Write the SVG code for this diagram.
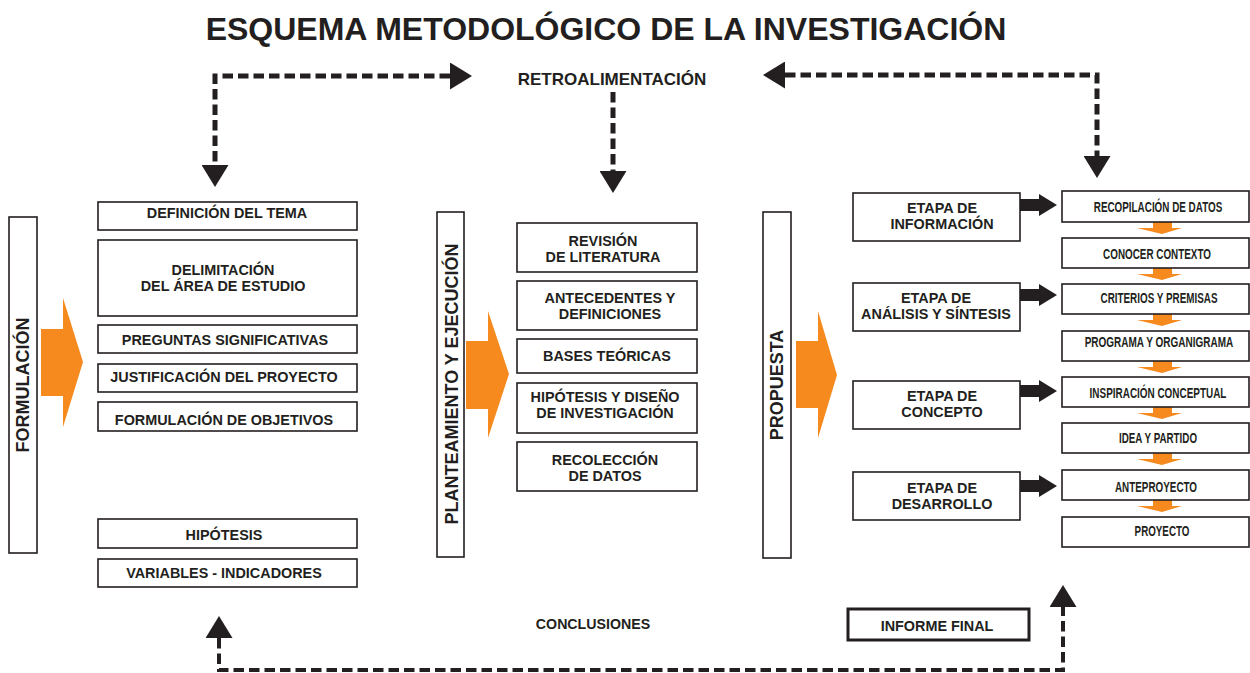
<svg xmlns="http://www.w3.org/2000/svg" width="1250" height="673" viewBox="0 0 1250 673">
<style>
.box{fill:#fff;stroke:#231F20;stroke-width:1.6}
.bold{stroke-width:3}
.t{font-family:"Liberation Sans",Arial,sans-serif;font-weight:bold;fill:#231F20;text-anchor:middle;font-size:14.4px}
.n{font-size:14px}
.v{font-size:18px}
.orange{fill:#F68A1F}
.blk{fill:#231F20}
.dash{fill:none;stroke:#231F20;stroke-width:5;stroke-dasharray:10.5 5}
.dash2{stroke-width:4}
</style>
<defs>
<marker id="head" viewBox="0 0 22 27" refX="0" refY="13.5" markerWidth="22" markerHeight="27" markerUnits="userSpaceOnUse" orient="auto-start-reverse">
<path d="M0,0 L22,13.5 L0,27 z" fill="#231F20"/>
</marker>
</defs>
<rect width="1250" height="673" fill="#fff"/>
<text class="t" x="606" y="40" style="font-size:32px">ESQUEMA METODOLÓGICO DE LA INVESTIGACIÓN</text>
<text class="t" x="612" y="85" style="font-size:17px">RETROALIMENTACIÓN</text>
<text class="t" x="593" y="629" style="font-size:14.2px">CONCLUSIONES</text>

<g id="connectors">
<path class="dash" d="M450,76 H215 V165" marker-start="url(#head)" marker-end="url(#head)"/>
<path class="dash" d="M785,75 H1097 V156" marker-start="url(#head)" marker-end="url(#head)"/>
<path class="dash" d="M613,92 V171" marker-end="url(#head)"/>
<path class="dash dash2" d="M219,638 V670 H1063 V607" marker-start="url(#head)" marker-end="url(#head)"/>
<polygon class="orange" points="41,329 63,329 63,298 83,362 63,427 63,396 41,396"/>
<polygon class="orange" points="466,341 488,341 488,311 509,374 488,438 488,409 466,409"/>
<polygon class="orange" points="796,341 818,341 818,311 837,375 818,438 818,408 796,408"/>
<polygon class="blk" points="1020,199 1039,199 1039,194 1057,205 1039,216 1039,211 1020,211"/>
<polygon class="blk" points="1020,289 1039,289 1039,284 1057,295 1039,306 1039,301 1020,301"/>
<polygon class="blk" points="1020,385 1039,385 1039,380 1057,391 1039,402 1039,397 1020,397"/>
<polygon class="blk" points="1020,480 1039,480 1039,475 1057,486 1039,497 1039,492 1020,492"/>
<g class="orange">
<polygon points="1153,222 1172,222 1172,228 1182,228 1162,234 1137,228 1153,228"/>
<polygon points="1153,268 1172,268 1172,274 1182,274 1162,280 1137,274 1153,274"/>
<polygon points="1153,314 1172,314 1172,320 1182,320 1162,326 1137,320 1153,320"/>
<polygon points="1153,361 1172,361 1172,367 1182,367 1162,373 1137,367 1153,367"/>
<polygon points="1153,407 1172,407 1172,413 1182,413 1162,419 1137,413 1153,413"/>
<polygon points="1153,453 1172,453 1172,459 1182,459 1162,465 1137,459 1153,459"/>
<polygon points="1153,500 1172,500 1172,506 1182,506 1162,512 1137,506 1153,506"/>
</g>
</g>

<g id="formulacion"><rect class="box" x="9" y="217" width="28" height="336"/><text class="t v" transform="translate(29,385) rotate(-90)">FORMULACIÓN</text></g>
<g id="planteamiento"><rect class="box" x="437" y="212" width="27" height="345"/><text class="t v" transform="translate(458,384) rotate(-90)">PLANTEAMIENTO Y EJECUCIÓN</text></g>
<g id="propuesta"><rect class="box" x="763" y="212" width="28" height="346"/><text class="t v" transform="translate(783,385) rotate(-90)">PROPUESTA</text></g>

<g id="definicion"><rect class="box" x="98" y="202" width="259" height="28"/><text class="t" x="227" y="218">DEFINICIÓN DEL TEMA</text></g>
<g id="delimitacion"><rect class="box" x="98" y="240" width="259" height="76"/><text class="t" x="223" y="275">DELIMITACIÓN</text><text class="t" x="223" y="291">DEL ÁREA DE ESTUDIO</text></g>
<g id="preguntas"><rect class="box" x="98" y="325" width="259" height="28"/><text class="t" x="225" y="345">PREGUNTAS SIGNIFICATIVAS</text></g>
<g id="justificacion"><rect class="box" x="98" y="364" width="259" height="28"/><text class="t" x="224" y="382">JUSTIFICACIÓN DEL PROYECTO</text></g>
<g id="objetivos"><rect class="box" x="98" y="402" width="259" height="29"/><text class="t" x="224" y="425">FORMULACIÓN DE OBJETIVOS</text></g>
<g id="hipotesis"><rect class="box" x="98" y="519" width="259" height="29"/><text class="t" x="224" y="540">HIPÓTESIS</text></g>
<g id="variables"><rect class="box" x="98" y="559" width="259" height="28"/><text class="t" x="224" y="578">VARIABLES - INDICADORES</text></g>

<g id="revision"><rect class="box" x="517" y="223" width="180" height="49"/><text class="t" x="603" y="246">REVISIÓN</text><text class="t" x="603" y="262">DE LITERATURA</text></g>
<g id="antecedentes"><rect class="box" x="517" y="281" width="180" height="49"/><text class="t" x="610" y="303">ANTECEDENTES Y</text><text class="t" x="610" y="319">DEFINICIONES</text></g>
<g id="bases"><rect class="box" x="517" y="339" width="180" height="34"/><text class="t" x="607" y="361">BASES TEÓRICAS</text></g>
<g id="hipotesis-diseno"><rect class="box" x="517" y="383" width="180" height="50"/><text class="t" x="605" y="402">HIPÓTESIS Y DISEÑO</text><text class="t" x="605" y="418">DE INVESTIGACIÓN</text></g>
<g id="recoleccion"><rect class="box" x="517" y="442" width="180" height="49"/><text class="t" x="605" y="465">RECOLECCIÓN</text><text class="t" x="605" y="481">DE DATOS</text></g>

<g id="etapa-informacion"><rect class="box" x="853" y="193" width="167" height="48"/><text class="t" x="942" y="213">ETAPA DE</text><text class="t" x="942" y="229">INFORMACIÓN</text></g>
<g id="etapa-analisis"><rect class="box" x="853" y="283" width="167" height="48"/><text class="t" x="936" y="303">ETAPA DE</text><text class="t" x="936" y="319">ANÁLISIS Y SÍNTESIS</text></g>
<g id="etapa-concepto"><rect class="box" x="853" y="381" width="167" height="48"/><text class="t" x="942" y="401">ETAPA DE</text><text class="t" x="942" y="417">CONCEPTO</text></g>
<g id="etapa-desarrollo"><rect class="box" x="853" y="472" width="167" height="48"/><text class="t" x="942" y="493">ETAPA DE</text><text class="t" x="942" y="509">DESARROLLO</text></g>

<g id="recopilacion"><rect class="box" x="1062" y="191" width="187" height="31"/><text class="t n" transform="translate(1158,212) scale(0.705,1)">RECOPILACIÓN DE DATOS</text></g>
<g id="contexto"><rect class="box" x="1062" y="238" width="187" height="30"/><text class="t n" transform="translate(1157,259) scale(0.705,1)">CONOCER CONTEXTO</text></g>
<g id="criterios"><rect class="box" x="1062" y="284" width="187" height="30"/><text class="t n" transform="translate(1159,303) scale(0.705,1)">CRITERIOS Y PREMISAS</text></g>
<g id="programa"><rect class="box" x="1062" y="331" width="187" height="30"/><text class="t n" transform="translate(1159,347) scale(0.715,1)">PROGRAMA Y ORGANIGRAMA</text></g>
<g id="inspiracion"><rect class="box" x="1062" y="377" width="187" height="30"/><text class="t n" transform="translate(1158,398) scale(0.71,1)">INSPIRACIÓN CONCEPTUAL</text></g>
<g id="idea"><rect class="box" x="1062" y="423" width="187" height="30"/><text class="t n" transform="translate(1158,443) scale(0.7,1)">IDEA Y PARTIDO</text></g>
<g id="anteproyecto"><rect class="box" x="1062" y="470" width="187" height="30"/><text class="t n" transform="translate(1156,492) scale(0.705,1)">ANTEPROYECTO</text></g>
<g id="proyecto"><rect class="box" x="1062" y="517" width="187" height="30"/><text class="t n" transform="translate(1162,536) scale(0.7,1)">PROYECTO</text></g>

<g id="informe-final"><rect class="box bold" x="848" y="609" width="181" height="31"/><text class="t" x="937" y="631">INFORME FINAL</text></g>
</svg>
